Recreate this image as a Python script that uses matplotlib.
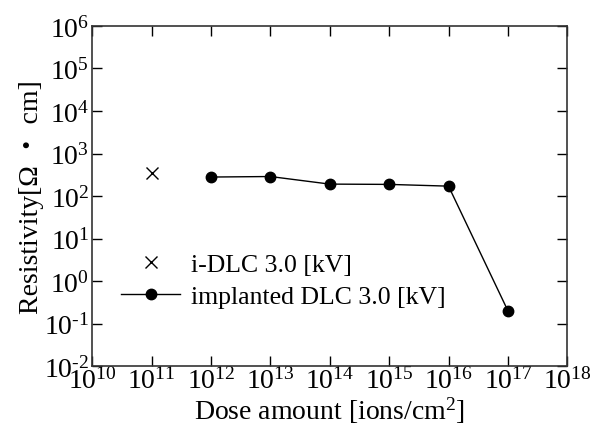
#!/usr/bin/env python3
# -*- coding: utf-8 -*-
"""Resistivity vs dose amount for i-DLC and implanted DLC (3.0 kV)."""

import matplotlib
matplotlib.use("Agg")
import matplotlib.pyplot as plt

# Donnees
idlc_dose = [1e11]
idlc_res = [345]

impl_dose = [1e12, 1e13, 1e14, 1e15, 1e16, 1e17]
impl_res = [280, 288, 191, 188, 171, 0.2]

x_exps = list(range(10, 19))
y_exps = list(range(-2, 7))

plt.rcParams['font.family'] = ['Liberation Serif', 'Noto Sans CJK JP', 'DejaVu Serif']
plt.rcParams['mathtext.fontset'] = 'custom'
plt.rcParams['mathtext.rm'] = 'Liberation Serif'
plt.rcParams['mathtext.it'] = 'Liberation Serif:italic'
plt.rcParams['mathtext.default'] = 'regular'


def pow_label(k):
    # trait d'union simple comme sur l'original
    s = str(k).replace('-', '\u2010')
    return '10$^{%s}$' % s


fig = plt.figure(figsize=(6.14, 4.35), dpi=100)
ax = fig.add_axes([0.150, 0.156, 0.774, 0.782])

ax.plot(idlc_dose, idlc_res, 'x', color='black', markersize=8,
        markeredgewidth=1.0, label='i-DLC 3.0 [kV]')
ax.plot(impl_dose, impl_res, '-o', color='black', linewidth=1.0,
        markersize=7.5, label='implanted DLC 3.0 [kV]')

ax.set_xscale('log')
ax.set_yscale('log')
ax.set_xlim(1e10, 1e18)
ax.set_ylim(1e-2, 1e6)
ax.set_xticks([10.0**k for k in x_exps])
ax.set_xticklabels([pow_label(k) for k in x_exps])
ax.set_yticks([10.0**k for k in y_exps])
ax.set_yticklabels([pow_label(k) for k in y_exps])
ax.minorticks_off()

ax.tick_params(which='major', direction='in', length=7, width=1.0,
               top=True, right=True, labelsize=20, pad=2)
ax.tick_params(axis='x', pad=1)
for sp in ax.spines.values():
    sp.set_linewidth(1.2)
    sp.set_color('#333333')

ax.set_xlabel('Dose amount [ions/cm$^2$]', fontsize=20, labelpad=0)
ax.set_ylabel('Resistivity[Ω ・ cm]', fontsize=20, labelpad=0)

ax.legend(loc='lower left', bbox_to_anchor=(0.04, 0.14), frameon=False,
          fontsize=18.5, handlelength=2.3, handletextpad=0.4,
          labelspacing=0.35, borderaxespad=0)

fig.savefig('out.png', dpi=100)
